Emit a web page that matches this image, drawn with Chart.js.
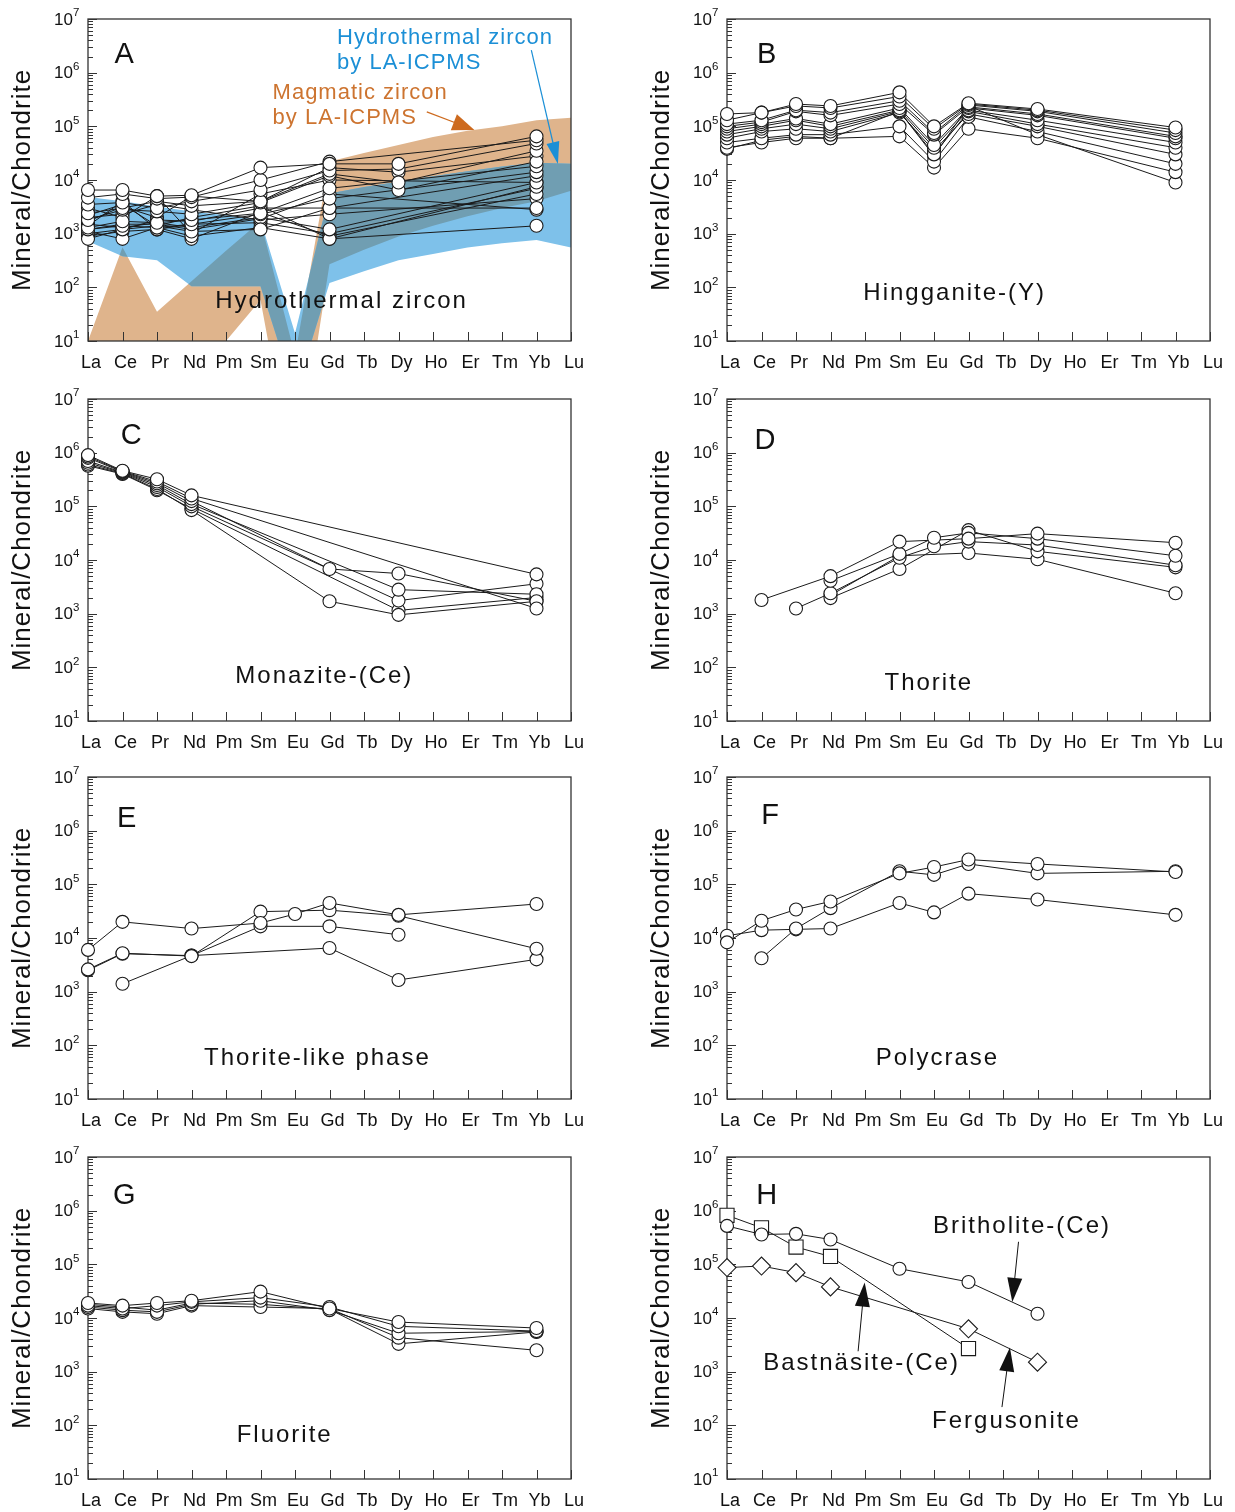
<!DOCTYPE html>
<html>
<head>
<meta charset="utf-8">
<script src="https://cdn.jsdelivr.net/npm/chart.js@4.4.1/dist/chart.umd.min.js"></script>
<style>
body{margin:0;background:#fff;width:1235px;height:1512px;position:relative;overflow:hidden}
canvas{position:absolute}
</style>
</head>
<body>
<canvas id="A" width="596" height="379" style="left:0;top:0"></canvas>
<canvas id="B" width="596" height="379" style="left:639px;top:0"></canvas>
<canvas id="C" width="596" height="379" style="left:0;top:380px"></canvas>
<canvas id="D" width="596" height="379" style="left:639px;top:380px"></canvas>
<canvas id="E" width="596" height="379" style="left:0;top:758px"></canvas>
<canvas id="F" width="596" height="379" style="left:639px;top:758px"></canvas>
<canvas id="G" width="596" height="379" style="left:0;top:1138px"></canvas>
<canvas id="H" width="596" height="379" style="left:639px;top:1138px"></canvas>
<script>
// REE order on the x axis
const ELEMENTS = ['La','Ce','Pr','Nd','Pm','Sm','Eu','Gd','Tb','Dy','Ho','Er','Tm','Yb','Lu'];
const Y_EXPONENTS = [1,2,3,4,5,6,7];

// A - zircon fields (one value per element) and hydrothermal zircon analyses
const MAGMATIC_UPPER = [10,560,35,130,480,1700,5.4,22000,32000,45000,63000,83000,100000,130000,145000];
const MAGMATIC_LOWER = [1,1,1,1,10,58,0.02,270,500,890,1400,2100,3000,4000,6300];
const HYDRO_UPPER = [4800,4000,3200,2600,2200,1800,14,5600,7400,9300,11700,14500,17800,21000,20000];
const HYDRO_LOWER = [720,380,320,105,105,105,1,120,200,320,420,550,660,760,550];
const A_COLS = ['La','Ce','Pr','Nd','Sm','Gd','Dy','Yb'];
const A_ZIRCON = [
  [6500,6500,5000,5200,17000,20000,20000,65000],
  [4700,5500,4500,4800,10000,22000,null,55000],
  [3500,3800,3000,4000,6500,15000,16000,48000],
  [2400,3000,4000,3300,4000,13000,9000,35000],
  [1800,2800,2600,2300,3800,12000,6500,22000],
  [1300,1700,1600,1800,2400,7000,null,18000],
  [1200,1400,1300,1500,2300,4500,null,14000],
  [800,1200,1400,1100,1200,3000,null,12000],
  [1500,1300,1600,1300,2000,1200,null,9000],
  [2200,3500,1400,2000,3300,800,null,7500],
  [1100,800,1300,900,1300,800,null,1400],
  [1000,1200,1800,1700,3000,3000,null,3000],
  [3000,2000,5000,1000,5500,10000,null,9000],
  [1400,4000,1200,800,2500,900,null,5500],
  [2000,2300,3500,2800,1800,2300,null,4500],
  [900,1100,1200,1500,1600,1000,null,7000],
  [1700,3200,2000,5000,4000,17000,14000,28000],
  [1200,1500,1500,1200,1900,5500,null,2800]
];

// B - Hingganite-(Y)
const B_COLS = ['La','Ce','Pr','Nd','Sm','Eu','Gd','Dy','Yb'];
const B_HINGGANITE = [
  [170000,180000,260000,240000,430000,100000,270000,210000,95000],
  [130000,180000,240000,220000,360000,90000,260000,200000,85000],
  [110000,130000,200000,180000,300000,75000,250000,190000,75000],
  [100000,120000,190000,160000,260000,70000,230000,170000,65000],
  [90000,110000,140000,110000,220000,45000,220000,160000,60000],
  [80000,100000,130000,100000,200000,40000,200000,130000,50000],
  [70000,90000,110000,90000,190000,30000,190000,110000,40000],
  [60000,80000,90000,80000,180000,35000,170000,100000,30000],
  [50000,60000,70000,70000,100000,22000,150000,80000,20000],
  [40000,50000,60000,60000,65000,17000,90000,60000,14000],
  [38000,55000,65000,60000,190000,28000,240000,70000,9000]
];

// C - Monazite-(Ce)
const C_COLS = ['La','Ce','Pr','Nd','Gd','Dy','Yb'];
const C_MONAZITE = [
  [900000,460000,320000,160000,null,null,5400],
  [850000,450000,290000,140000,null,null,1250],
  [800000,440000,270000,125000,6800,5600,1700],
  [700000,430000,250000,110000,null,2800,2300],
  [650000,420000,230000,100000,null,1750,3600],
  [600000,410000,210000,85000,1700,950,1700],
  [570000,400000,200000,90000,null,1150,2000]
];

// D - Thorite
const D_COLS = ['Ce','Pr','Nd','Sm','Eu','Gd','Dy','Yb'];
const D_THORITE = [
  [1800,null,5000,22000,null,25000,31000,21000],
  [null,null,4100,13000,26000,32000,25000,12000],
  [null,1250,2400,11000,18000,22000,19000,8000],
  [null,null,1950,6800,null,36000,14500,7300],
  [null,null,2200,12000,null,13500,10300,2400]
];

// E - Thorite-like phase
const E_COLS = ['La','Ce','Nd','Sm','Eu','Gd','Dy','Yb'];
const E_THORITE_LIKE = [
  [6000,20000,15000,19000,28000,45000,27000,43000],
  [2600,5200,4600,31000,null,33000,26000,6300],
  [null,1400,4700,16500,null,16500,11500,null],
  [2500,5100,4700,null,null,6500,1650,4000]
];

// F - Polycrase
const F_COLS = ['La','Ce','Pr','Nd','Sm','Eu','Gd','Dy','Yb'];
const F_POLYCRASE = [
  [8300,21000,34000,48000,160000,210000,290000,240000,170000],
  [null,4200,15000,36000,175000,150000,240000,160000,175000],
  [11000,14000,14500,15000,45000,30000,67000,52000,27000]
];

// G - Fluorite
const G_COLS = ['La','Ce','Pr','Nd','Sm','Gd','Dy','Yb'];
const G_FLUORITE = [
  [19000,17000,19000,21000,31000,15000,8400,6500],
  [17000,15000,17000,20000,24000,16000,7000,5700],
  [16000,14000,13000,18000,21000,14000,5200,5600],
  [15000,13000,12000,17000,16000,15000,4300,2500],
  [18000,16000,14000,19000,18000,14500,3300,5500]
];

// H - other REE minerals
const H_COLS = ['La','Ce','Pr','Nd','Sm','Gd','Dy'];
const H_BRITHOLITE = [520000,360000,370000,290000,83000,47000,12000];
const H_BASTNASITE = [820000,480000,210000,140000,null,2700,null];
const H_FERGUSONITE = [87000,93000,70000,38000,null,6300,1500];

const FONT = "'Liberation Sans', Arial, sans-serif";

function toPoints(cols, vals){
  return cols.map((c,i)=> vals[i]==null ? null : {x:c, y:vals[i]}).filter(p=>p);
}

function seriesSets(cols, rows, style){
  const sets = [];
  rows.forEach(r=>{
    const pts = toPoints(cols, r);
    sets.push({data:pts, borderColor:'#1a1a1a', borderWidth:1, pointRadius:0, order:2});
    sets.push({data:pts, showLine:false, clip:false, pointStyle:style||'circle', pointRadius:6.5,
      pointBackgroundColor:'#fff', pointBorderColor:'#1a1a1a', pointBorderWidth:1.1, order:1});
  });
  return sets;
}

function bandPath(ctx, x, y, upper, lower){
  ctx.beginPath();
  upper.forEach((v,i)=>{
    const px = x.getPixelForValue(i), py = y.getPixelForValue(v);
    if (i) ctx.lineTo(px,py); else ctx.moveTo(px,py);
  });
  for (let i=lower.length-1;i>=0;i--) ctx.lineTo(x.getPixelForValue(i), y.getPixelForValue(lower[i]));
  ctx.closePath();
}

function arrow(ctx, x1, y1, x2, y2, color, len, wid, lw){
  const ang = Math.atan2(y2-y1, x2-x1);
  ctx.strokeStyle = color; ctx.fillStyle = color; ctx.lineWidth = lw;
  ctx.beginPath();
  ctx.moveTo(x1,y1);
  ctx.lineTo(x2 - Math.cos(ang)*len*0.8, y2 - Math.sin(ang)*len*0.8);
  ctx.stroke();
  ctx.beginPath();
  ctx.moveTo(x2,y2);
  ctx.lineTo(x2 - Math.cos(ang)*len - Math.sin(ang)*wid/2, y2 - Math.sin(ang)*len + Math.cos(ang)*wid/2);
  ctx.lineTo(x2 - Math.cos(ang)*len + Math.sin(ang)*wid/2, y2 - Math.sin(ang)*len - Math.cos(ang)*wid/2);
  ctx.closePath();
  ctx.fill();
}

const framePlugin = {
  id: 'frame',
  beforeDatasetsDraw(chart, args, opts){
    const {ctx, chartArea:a, scales:{x, y}} = chart;
    ctx.save();
    if (opts.bands){
      ctx.save();
      ctx.beginPath(); ctx.rect(a.left, a.top, a.right-a.left, a.bottom-a.top); ctx.clip();
      bandPath(ctx, x, y, MAGMATIC_UPPER, MAGMATIC_LOWER);
      ctx.fillStyle = '#dfb48c'; ctx.fill();
      bandPath(ctx, x, y, HYDRO_UPPER, HYDRO_LOWER);
      ctx.fillStyle = '#7ec1ea'; ctx.fill();
      bandPath(ctx, x, y, MAGMATIC_UPPER, MAGMATIC_LOWER);
      ctx.clip();
      bandPath(ctx, x, y, HYDRO_UPPER, HYDRO_LOWER);
      ctx.fillStyle = '#709eb2'; ctx.fill();
      ctx.restore();
    }
    ctx.strokeStyle = '#333'; ctx.lineWidth = 1.3;
    ctx.strokeRect(a.left, a.top, a.right-a.left, a.bottom-a.top);
    ctx.lineWidth = 1;
    ctx.beginPath();
    Y_EXPONENTS.forEach(e=>{
      const v = Math.pow(10,e);
      const py = Math.round(y.getPixelForValue(v))+0.5;
      ctx.moveTo(a.left, py); ctx.lineTo(a.left+9, py);
      if (e<7) for (let k=2;k<10;k++){
        const pm = Math.round(y.getPixelForValue(k*v))+0.5;
        ctx.moveTo(a.left, pm); ctx.lineTo(a.left+5, pm);
      }
    });
    ELEMENTS.forEach((el,i)=>{
      const px = Math.round(x.getPixelForValue(i))+0.5;
      ctx.moveTo(px, a.bottom); ctx.lineTo(px, a.bottom-9);
    });
    ctx.stroke();
    // y labels with superscript exponents
    ctx.fillStyle = '#111';
    Y_EXPONENTS.forEach(e=>{
      const py = y.getPixelForValue(Math.pow(10,e));
      ctx.font = '17px '+FONT; ctx.textAlign = 'right'; ctx.textBaseline = 'middle';
      ctx.fillText('10', a.left-15, py+1);
      ctx.font = '11.5px '+FONT; ctx.textAlign = 'left';
      ctx.fillText(String(e), a.left-15, py-6);
    });
    ctx.save();
    ctx.translate(a.left-65, (a.top+a.bottom)/2);
    ctx.rotate(-Math.PI/2);
    ctx.font = '26px '+FONT; ctx.letterSpacing = '1px';
    ctx.textAlign = 'center'; ctx.textBaseline = 'middle';
    ctx.fillText('Mineral/Chondrite', 0, 0);
    ctx.restore();
    ctx.restore();
  },
  afterDatasetsDraw(chart, args, opts){
    const {ctx, scales:{x, y}} = chart;
    ctx.save();
    (opts.arrows||[]).forEach(ar=>{
      arrow(ctx, x.getPixelForValue(ar.from[0]), y.getPixelForValue(ar.from[1]),
        x.getPixelForValue(ar.to[0]), y.getPixelForValue(ar.to[1]), ar.color, ar.len, ar.wid, ar.lw);
    });
    (opts.texts||[]).forEach(t=>{
      ctx.font = t.size+'px '+FONT;
      ctx.letterSpacing = (t.spacing||0)+'px';
      ctx.fillStyle = t.color||'#111';
      ctx.textAlign = t.align||'center';
      ctx.textBaseline = 'middle';
      ctx.fillText(t.text, x.getPixelForValue(t.x), y.getPixelForValue(t.y));
    });
    ctx.restore();
  }
};

function makePanel(id, datasets, frame){
  new Chart(document.getElementById(id), {
    type:'line',
    data:{labels:ELEMENTS, datasets},
    options:{
      responsive:false, animation:false,
      layout:{padding:{top:19, right:25, left:0, bottom:0}},
      plugins:{legend:{display:false}, tooltip:{enabled:false}, frame},
      scales:{
        x:{type:'category', offset:false, grid:{display:false, drawTicks:false}, border:{display:false},
           ticks:{autoSkip:false, maxRotation:0, padding:11, labelOffset:3, color:'#111', font:{family:FONT, size:18}},
           afterFit(s){ s.height = 38; }},
        y:{type:'logarithmic', min:10, max:1e7, grid:{display:false, drawTicks:false}, border:{display:false},
           ticks:{display:false}, afterFit(s){ s.width = 88; }}
      }
    },
    plugins:[framePlugin]
  });
}

const big = (t,x,y)=>({text:t, x, y, size:24, spacing:2});
const letter = (t,x,y)=>({text:t, x, y, size:29});

makePanel('A', seriesSets(A_COLS, A_ZIRCON), {
  bands:true,
  texts:[letter('A',1.05,Math.pow(10,6.33)), big('Hydrothermal zircon',7.35,Math.pow(10,1.73)),
    {text:'Hydrothermal zircon', x:7.22, y:Math.pow(10,6.65), size:22, spacing:1, color:'#1b8fd6', align:'left'},
    {text:'by LA-ICPMS', x:7.22, y:Math.pow(10,6.18), size:22, spacing:1, color:'#1b8fd6', align:'left'},
    {text:'Magmatic zircon', x:5.35, y:Math.pow(10,5.62), size:22, spacing:1, color:'#cd7430', align:'left'},
    {text:'by LA-ICPMS', x:5.35, y:Math.pow(10,5.16), size:22, spacing:1, color:'#cd7430', align:'left'}],
  arrows:[{from:[12.85,Math.pow(10,6.42)], to:[13.62,Math.pow(10,4.3)], color:'#1b8fd6', len:22, wid:13, lw:1.2},
    {from:[9.82,Math.pow(10,5.27)], to:[11.2,Math.pow(10,4.93)], color:'#cd6a1e', len:22, wid:17, lw:1.2}]
});
makePanel('B', seriesSets(B_COLS, B_HINGGANITE), {
  texts:[letter('B',1.15,Math.pow(10,6.33)), big('Hingganite-(Y)',6.6,Math.pow(10,1.88))]
});
makePanel('C', seriesSets(C_COLS, C_MONAZITE), {
  texts:[letter('C',1.25,Math.pow(10,6.31)), big('Monazite-(Ce)',6.85,Math.pow(10,1.84))]
});
makePanel('D', seriesSets(D_COLS, D_THORITE), {
  texts:[letter('D',1.1,Math.pow(10,6.22)), big('Thorite',5.85,Math.pow(10,1.71))]
});
makePanel('E', seriesSets(E_COLS, E_THORITE_LIKE), {
  texts:[letter('E',1.12,Math.pow(10,6.22)), big('Thorite-like phase',6.65,Math.pow(10,1.76))]
});
makePanel('F', seriesSets(F_COLS, F_POLYCRASE), {
  texts:[letter('F',1.25,Math.pow(10,6.27)), big('Polycrase',6.1,Math.pow(10,1.76))]
});
makePanel('G', seriesSets(G_COLS, G_FLUORITE), {
  texts:[letter('G',1.05,Math.pow(10,6.27)), big('Fluorite',5.7,Math.pow(10,1.82))]
});
makePanel('H', [
  ...seriesSets(H_COLS, [H_BRITHOLITE]),
  ...seriesSets(H_COLS, [H_BASTNASITE], 'rect').map(d=>d.showLine===false ? {...d, pointRadius:10} : d),
  ...seriesSets(H_COLS, [H_FERGUSONITE], 'rectRot').map(d=>d.showLine===false ? {...d, pointRadius:9} : d)
], {
  texts:[letter('H',1.15,Math.pow(10,6.27)), big('Britholite-(Ce)',8.55,Math.pow(10,5.71)),
    big('Bastnäsite-(Ce)',3.9,Math.pow(10,3.16)), big('Fergusonite',8.1,Math.pow(10,2.08))],
  arrows:[{from:[8.45,Math.pow(10,5.42)], to:[8.27,Math.pow(10,4.3)], color:'#111', len:24, wid:15, lw:1},
    {from:[3.8,Math.pow(10,3.38)], to:[3.99,Math.pow(10,4.66)], color:'#111', len:24, wid:15, lw:1},
    {from:[7.97,Math.pow(10,2.34)], to:[8.2,Math.pow(10,3.45)], color:'#111', len:24, wid:15, lw:1}]
});
</script>
</body>
</html>
